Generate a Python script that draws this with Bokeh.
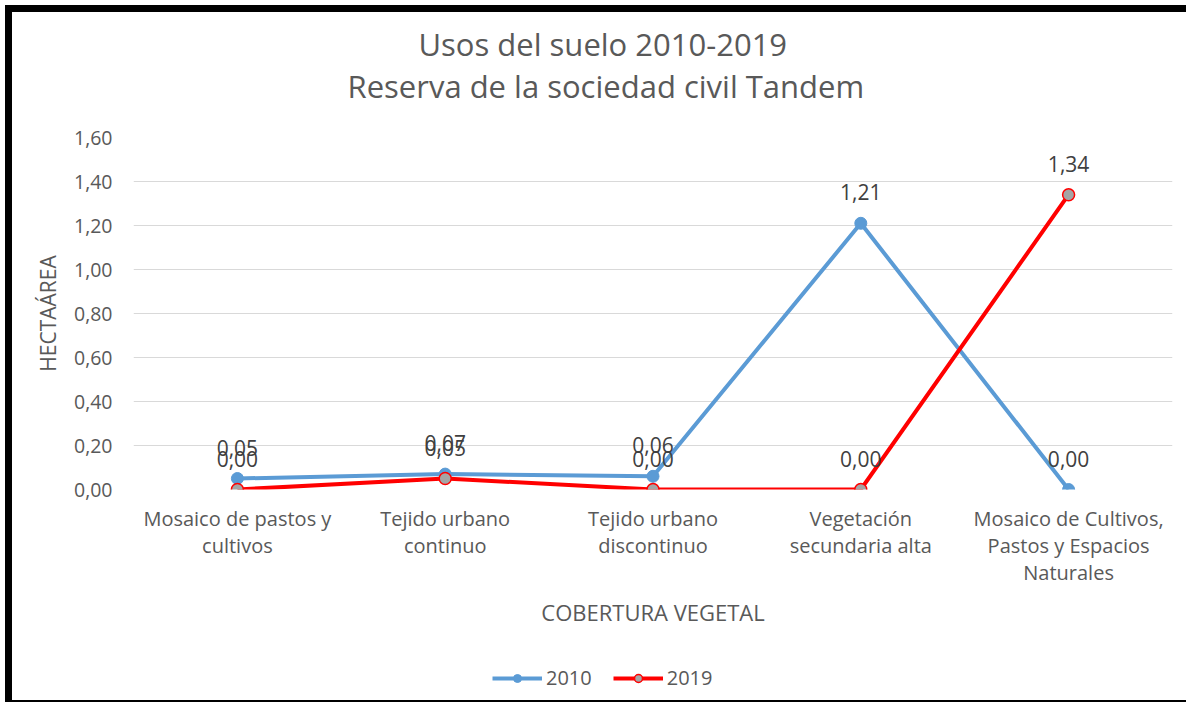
from bokeh.plotting import figure
from bokeh.layouts import column
from bokeh.models import (Range1d, FixedTicker, CustomJSTickFormatter, Title,
                          Legend, LegendItem)
from bokeh.core.properties import value
from bokeh.embed import file_html
from bokeh.resources import INLINE

categories = ["Mosaico de pastos y\ncultivos", "Tejido urbano\ncontinuo",
              "Tejido urbano\ndiscontinuo", "Vegetación\nsecundaria alta",
              "Mosaico de Cultivos,\nPastos y Espacios\nNaturales"]
series_2010 = [0.05, 0.07, 0.06, 1.21, 0.00]
series_2019 = [0.00, 0.05, 0.00, 0.00, 1.34]
series_names = ["2010", "2019"]
y_ticks = [0.0, 0.2, 0.4, 0.6, 0.8, 1.0, 1.2, 1.4, 1.6]
title_1 = "Usos del suelo 2010-2019"
title_2 = "Reserva de la sociedad civil Tandem"

FONT = "Open Sans"
GREY = "#595959"
BLUE = "#5b9bd5"
RED = "#ff0000"
xs = list(range(len(categories)))

p = figure(width=1174, height=640, output_backend="svg", toolbar_location=None,
           x_range=Range1d(-0.5, len(categories) - 0.5), y_range=Range1d(0, 1.6),
           min_border_left=121, min_border_right=14, min_border_top=125,
           min_border_bottom=163, outline_line_color=None,
           background_fill_color="white", border_fill_color="white")

# titles: spacer closest to the plot, then subtitle, then main title
spacer = Title(text=" ", text_font=FONT, text_font_size="10px", standoff=15)
t2 = Title(text=title_2, align="left", offset=214, text_font=FONT,
           text_font_size="31px", text_font_style="normal", text_color=GREY,
           standoff=0, vertical_align="bottom")
t1 = Title(text=title_1, align="left", offset=285, text_font=FONT,
           text_font_size="31px", text_font_style="normal", text_color=GREY,
           standoff=-4, vertical_align="bottom")
p.add_layout(spacer, "above")
p.add_layout(t2, "above")
p.add_layout(t1, "above")

# axes
p.xaxis.ticker = FixedTicker(ticks=xs)
p.xaxis.major_label_overrides = {i: c for i, c in enumerate(categories)}
p.xaxis.axis_label = "COBERTURA VEGETAL"
p.yaxis.ticker = FixedTicker(ticks=y_ticks)
p.yaxis.formatter = CustomJSTickFormatter(code="return tick.toFixed(2).replace('.', ',');")
p.yaxis.axis_label = "HECTAÁREA"
for ax in (p.xaxis[0], p.yaxis[0]):
    ax.axis_line_color = None
    ax.major_tick_line_color = None
    ax.minor_tick_line_color = None
    ax.major_label_text_font = FONT
    ax.major_label_text_color = GREY
    ax.axis_label_text_font = FONT
    ax.axis_label_text_font_style = "normal"
    ax.axis_label_text_color = GREY
p.xaxis.axis_label_text_font_size = "22px"
p.yaxis.axis_label_text_font_size = "21px"
p.xaxis.major_label_text_font_size = "20px"
p.xaxis.major_label_text_line_height = 1.0
p.yaxis.major_label_text_font_size = "19.5px"
p.xaxis.major_label_standoff = 9
p.xaxis.axis_label_standoff = 8
p.yaxis.major_label_standoff = 15
p.yaxis.axis_label_standoff = 9

p.xgrid.grid_line_color = None
p.ygrid.grid_line_color = "#d9d9d9"
p.ygrid.grid_line_width = 1

# series
p.line(xs, series_2010, line_color=BLUE, line_width=4)
p.scatter(xs, series_2010, marker="circle", size=12, fill_color=BLUE, line_color=BLUE)
p.line(xs, series_2019, line_color=RED, line_width=4)
p.scatter(xs, series_2019, marker="circle", size=12, fill_color="#a5a5a5",
          line_color=RED, line_width=1.5)

def fmt(v):
    return f"{v:.2f}".replace(".", ",")

for ser in (series_2010, series_2019):
    p.text(xs, ser, text=[fmt(v) for v in ser], text_font=value(FONT),
           text_font_size="21px", text_color="#404040", text_align="center",
           text_baseline="middle", y_offset=-31)

# legend strip below the chart (same series, drawn out of view; only the legend shows)
pl = figure(width=1174, height=48, output_backend="svg", toolbar_location=None,
            x_range=Range1d(100, 101), y_range=Range1d(100, 101),
            x_axis_type=None, y_axis_type=None, min_border=0,
            min_border_left=0, min_border_right=0, min_border_top=0,
            min_border_bottom=0, outline_line_color=None,
            background_fill_color="white", border_fill_color="white")
pl.xgrid.grid_line_color = None
pl.ygrid.grid_line_color = None
la = pl.line(xs, series_2010, line_color=BLUE, line_width=4)
sa = pl.scatter(xs, series_2010, marker="circle", size=12, fill_color=BLUE, line_color=BLUE)
lb = pl.line(xs, series_2019, line_color=RED, line_width=4)
sb = pl.scatter(xs, series_2019, marker="circle", size=12, fill_color="#a5a5a5",
                line_color=RED, line_width=1.5)
legend = Legend(items=[LegendItem(label=series_names[0], renderers=[la, sa]),
                       LegendItem(label=series_names[1], renderers=[lb, sb])],
                orientation="horizontal", location=(359, 9),
                label_text_font=FONT, label_text_font_size="20px",
                label_text_color=GREY, glyph_width=50, glyph_height=20,
                label_standoff=4, spacing=21,
                border_line_color=None, background_fill_alpha=0,
                padding=0, margin=0)
pl.add_layout(legend, "center")

layout = column(p, pl, spacing=0)
layout.margin = (12, 0, 0, 12)
layout.styles = {"box-shadow": "0 0 0 7px black"}

open("out.html", "w").write(file_html(layout, INLINE))
